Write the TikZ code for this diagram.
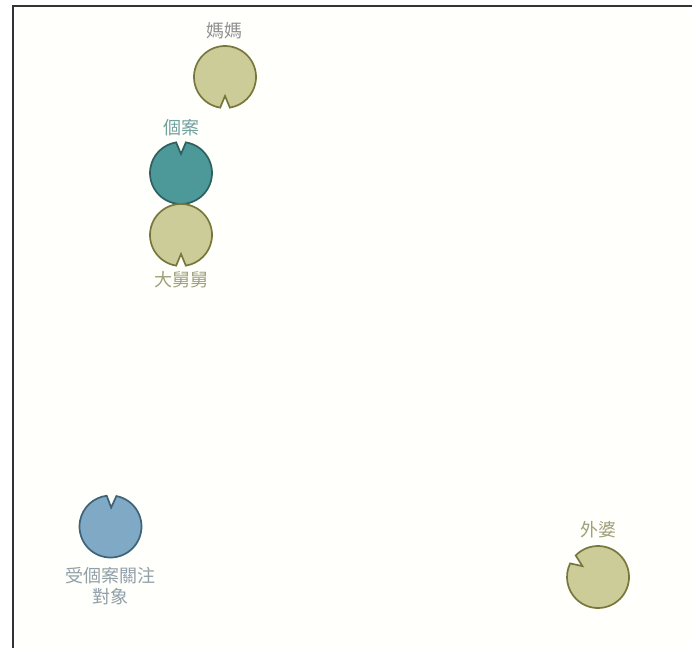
\documentclass[tikz,border=0pt]{standalone}
\usepackage{fontspec}
\newfontfamily\cjk{Noto Sans CJK TC}
\definecolor{oliveFill}{HTML}{CCCC99}
\definecolor{oliveLine}{HTML}{77773C}
\definecolor{tealFill}{HTML}{4D9999}
\definecolor{tealLine}{HTML}{2F6060}
\definecolor{blueFill}{HTML}{7FA9C4}
\definecolor{blueLine}{HTML}{3E6378}
\definecolor{grayText}{HTML}{909090}
\definecolor{tealText}{HTML}{729F9F}
\definecolor{oliveText}{HTML}{A0A07A}
\definecolor{blueText}{HTML}{919FA8}
\newcommand{\notched}[4]{% center, notch angle, style, name
	\coordinate (#4) at (#1);
	\draw[#3] ($(#4)+(#2+9:31)$) arc[start angle=#2+9,end angle=#2+351,radius=31] -- ($(#4)+(#2:19)$) -- cycle;}
\usetikzlibrary{calc}
\begin{document}
\begin{tikzpicture}[x=1pt,y=-1pt,
	person/.style={line width=1.7pt,fill=oliveFill,draw=oliveLine},
	client/.style={line width=1.7pt,fill=tealFill,draw=tealLine},
	focus/.style={line width=1.7pt,fill=blueFill,draw=blueLine},
	kinLabel/.style={font=\cjk\fontsize{18}{21}\selectfont,inner sep=0pt,align=center}]
	\useasboundingbox (0,0) rectangle (692,648);
	\fill[white!99!yellow] (12,5) rectangle (692,648);
	\draw[line width=2pt,black!80] (12.5,648) -- (12.5,5.5) -- (692,5.5);

	\notched{225,77}{90}{person}{mom}
	\notched{181,173}{-90}{client}{case}
	\notched{181,235}{90}{person}{uncle}
	\notched{110.5,526.5}{-88}{focus}{target}
	\notched{598,577}{-145}{person}{grandma}

	\node (momLabel) at (224,31)[kinLabel,text=grayText] {媽媽};
	\node (caseLabel) at (181,128)[kinLabel,text=tealText] {個案};
	\node (uncleLabel) at (181,280)[kinLabel,text=oliveText] {大舅舅};
	\node (targetLabel) at (110,586)[kinLabel,text=blueText] {受個案關注\\對象};
	\node (grandmaLabel) at (598,530)[kinLabel,text=oliveText] {外婆};
\end{tikzpicture}
\end{document}
